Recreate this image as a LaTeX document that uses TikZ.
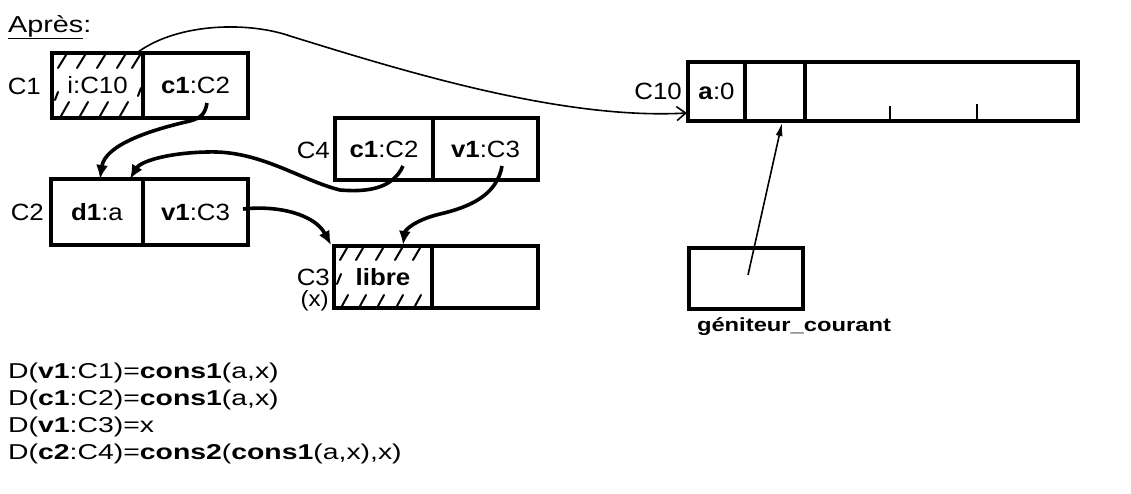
\documentclass[tikz,border=0pt]{standalone}
\usepackage{fontspec}
\setmainfont[FakeStretch=1.25]{Liberation Sans}
\newfontfamily\boxfont[FakeStretch=1.1]{Liberation Sans}
\newfontfamily\formfont[FakeStretch=1.32]{Liberation Sans}
\usetikzlibrary{arrows.meta,calc}
\begin{document}
\begin{tikzpicture}[x=1pt,y=-1pt,
  txt/.style={font=\formfont\fontsize{21.5}{25}\selectfont,inner sep=0pt},
  cell/.style={draw,line width=3.2pt,inner sep=0pt,font=\boxfont\fontsize{23.5}{27}\selectfont},
  lbl/.style={font=\boxfont\fontsize{23.5}{27}\selectfont,inner sep=0pt},
  hatch/.style={line width=2pt,line cap=round},
  thickarrow/.style={line width=3.6pt,-{Latex[length=14pt,width=12pt]}},
  thinarrow/.style={line width=1.6pt,-{Straight Barb[length=9pt,width=14pt,line width=1.6pt]}},
  ptrarrow/.style={line width=1.6pt,-{Latex[length=13pt,width=7pt]}}]
\useasboundingbox (0,0) rectangle (1131,493);

% title
\node[font=\fontsize{23}{28}\selectfont,inner sep=0pt,anchor=base west] (title) at (8,32) {\underline{Après}:};

% C1
\node[cell,minimum width=91pt,minimum height=65pt] (c1a) at (97.5,85.5) {i:C10};
\node[cell,minimum width=105pt,minimum height=65pt] (c1b) at (195.5,85.5) {\textbf{c1}:C2};
\node[lbl,anchor=east] (l1) at (41,86) {C1};
% C2
\node[cell,minimum width=92pt,minimum height=66pt] (c2a) at (97,212) {\textbf{d1}:a};
\node[cell,minimum width=105pt,minimum height=66pt] (c2b) at (195.5,212) {\textbf{v1}:C3};
\node[lbl,anchor=east] (l2) at (44,212) {C2};
% C4
\node[cell,minimum width=98pt,minimum height=62pt] (c4a) at (384,149) {\textbf{c1}:C2};
\node[cell,minimum width=105pt,minimum height=62pt] (c4b) at (485.5,149) {\textbf{v1}:C3};
\node[lbl,anchor=east] (l4) at (330,150) {C4};
% C3
\node[cell,minimum width=98pt,minimum height=62pt] (c3a) at (383,277) {\textbf{libre}};
\node[cell,minimum width=106pt,minimum height=62pt] (c3b) at (485,277) {};
\node[lbl,anchor=east] (l3) at (330,277) {C3};
\node[lbl,anchor=east,font=\boxfont\fontsize{22}{24}\selectfont] (l3x) at (329,301) {(x)};
% C10
\node[cell,minimum width=57pt,minimum height=59pt] (c10a) at (716.5,91.5) {\textbf{a}:0};
\node[cell,minimum width=60pt,minimum height=59pt] (c10b) at (775,91.5) {};
\node[cell,minimum width=273pt,minimum height=59pt] (c10c) at (941.5,91.5) {};
\node[lbl,anchor=east] (l10) at (682,91) {C10};
\draw[line width=1.6pt] (890,106) -- (890,120);
\draw[line width=1.6pt] (977,104) -- (977,120);
% geniteur
\node[cell,minimum width=114pt,minimum height=61pt] (gen) at (746,278.5) {};
\node[font=\fontsize{19}{22}\selectfont\bfseries,inner sep=0pt] (genl) at (794,327) {géniteur\_courant};

% hatching C1 cell a
\foreach \x in {58,77,97,117,132} \draw[hatch] (\x,68) -- ++(8,-13);
\foreach \x in {61,80,100,120} \draw[hatch] (\x,116) -- ++(8,-14);
\draw[hatch] (58,92) -- (55,100);
\draw[hatch] (138,96) -- (141,88);
% hatching C3 cell a
\foreach \x in {340,356,376,395,413} \draw[hatch] (\x,260) -- ++(7,-12);
\foreach \x in {342,360,378,397,415} \draw[hatch] (\x,306) -- ++(6,-11);
\draw[hatch] (337,284) -- (341,274);

% formulas
\node[txt,anchor=base west] (f1) at (8,378) {D(\textbf{v1}:C1)=\textbf{cons1}(a,x)};
\node[txt,anchor=base west] (f2) at (8,405) {D(\textbf{c1}:C2)=\textbf{cons1}(a,x)};
\node[txt,anchor=base west] (f3) at (8,432) {D(\textbf{v1}:C3)=x};
\node[txt,anchor=base west] (f4) at (8,459) {D(\textbf{c2}:C4)=\textbf{cons2}(\textbf{cons1}(a,x),x)};

% connector coordinates
\coordinate (s1) at (138,52);
\coordinate (t1) at (687,113);
\coordinate (s2) at (207,103);
\coordinate (t2) at (100,179);
\coordinate (s3) at (403,166);
\coordinate (t3) at (130,179);
\coordinate (s4) at (243,209);
\coordinate (t4) at (331,245);
\coordinate (s5) at (502,166);
\coordinate (t5) at (403,245);
\coordinate (s6) at (748,275);
\coordinate (t6) at (782,123);

\draw[thinarrow] (s1) .. controls (180,22) and (250,22) .. (290,36)
   .. controls (400,70) and (560,120) .. (t1);
\draw[thickarrow] (s2) .. controls (205,115) and (200,118) .. (190,121)
   .. controls (150,130) and (105,145) .. (t2);
\draw[thickarrow] (s3) .. controls (392,190) and (365,192) .. (340,190)
   .. controls (300,180) and (260,150) .. (207,152)
   .. controls (165,153) and (140,162) .. (t3);
\draw[thickarrow] (s4) .. controls (280,205) and (315,215) .. (t4);
\draw[thickarrow] (s5) .. controls (497,195) and (470,207) .. (440,214)
   .. controls (415,220) and (405,230) .. (t5);
\draw[ptrarrow] (s6) -- (t6);
\end{tikzpicture}
\end{document}
